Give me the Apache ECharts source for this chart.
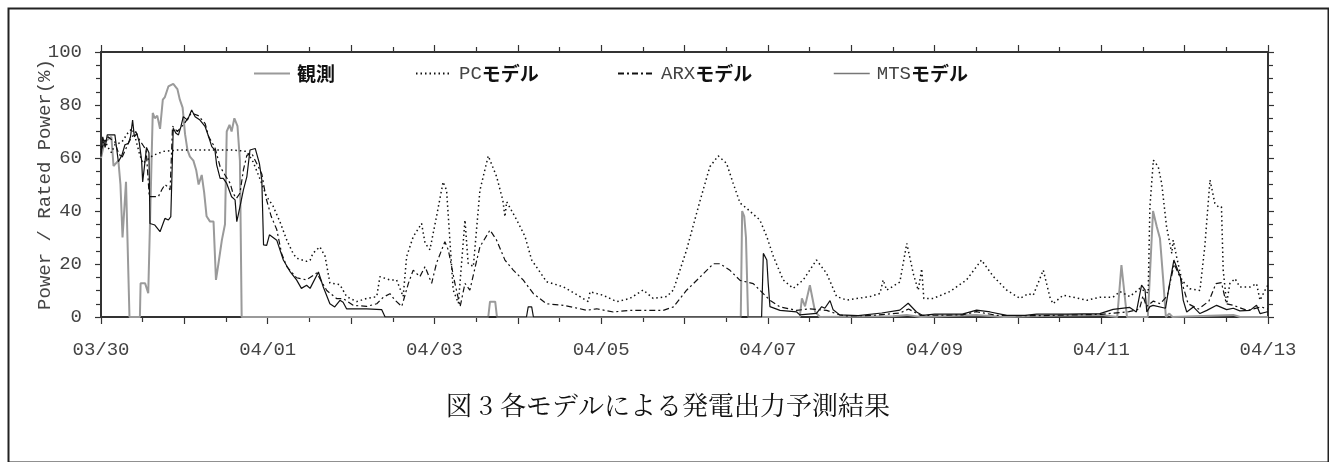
<!DOCTYPE html>
<html><head><meta charset="utf-8">
<script src="https://cdn.jsdelivr.net/npm/echarts@6/dist/echarts.min.js"></script>
<style>html,body{margin:0;padding:0;background:#fff}#c{width:1329px;height:462px}</style>
</head><body><div id="c"></div>
<script>
// x values are hours since 03/30 00:00
const dayLabels = ['03/30','03/31','04/01','04/02','04/03','04/04','04/05','04/06','04/07','04/08','04/09','04/10','04/11','04/12','04/13'];
const seriesNames = ['観測','PCモデル','ARXモデル','MTSモデル'];
const yTicks = [0,20,40,60,80,100];

const obsData = [[0,60],[1,66],[2,67],[3,68],[3.6,57],[5,59],[5.6,50],[6.2,30],[7.2,51],[8.2,0],[11.2,0],[11.4,12.7],[12.7,12.7],[13.6,9],[14.9,77],[15.5,75],[16.2,76],[17,71],[17.8,82],[18.4,83],[19.4,87],[20.8,88],[22,86],[22.7,82],[23.5,79],[24.2,69],[24.9,63],[25.6,60.5],[26.6,59],[27.4,55.5],[28.1,50],[29,53.6],[29.7,47],[30.4,38],[31.4,36],[32.4,36],[33.1,14],[33.8,20],[34.8,29],[35.7,35],[36.2,70],[37,72.5],[37.6,70],[38.4,75],[39.3,72],[40,59],[40.5,0],[111.5,0],[112,5.8],[113.5,5.8],[114,0],[184.2,0],[184.6,40],[185.2,38],[185.7,30],[186.3,0],[201.2,0],[201.8,7],[202.7,4],[204.1,12],[205.6,2],[207,0],[228,0.3],[232,0.8],[236,0],[252,0.8],[260,0],[276,0.6],[288,0.8],[292.6,0],[293.8,19.6],[295.4,0],[301.4,0],[302.9,40],[304,34],[304.9,29.6],[305.8,14.5],[306.6,0],[307.6,1.3],[308.5,0],[326,0.8],[328,0],[336,0]];

const pcData = [[0,64],[1,67],[2,64],[3,62],[4,65],[6,66],[8,70],[9,71],[10,67],[11,62],[12,58],[13,59],[15,61],[18,62.5],[22,63],[30,63],[38,63],[42,62.5],[43.8,58.5],[45.8,52],[47.7,45.4],[49.5,42],[51.5,36],[53.5,29],[55.3,24],[56.3,22.2],[59.2,21],[60.2,21.4],[61,24],[63,26.5],[64.5,23],[65.9,12.8],[68.8,12.2],[70.7,7.7],[73.6,5.8],[76.5,7],[79.4,7.7],[80.3,15.2],[83.2,14],[85.1,14],[87,7.7],[88,22.8],[89.9,30.3],[92.3,35.3],[93.3,27.9],[94.7,25.4],[96.6,37.9],[98.5,51],[99.5,47.8],[101.4,10.2],[102.9,5.2],[104.8,36.6],[105.7,20.3],[107.2,19],[109.1,47.8],[111.5,60.8],[113.9,53],[115.7,44],[116.3,37.8],[116.8,43.5],[119.7,36.6],[122.1,30.3],[124,21.5],[128.3,13.3],[133.1,11.4],[137.9,7.7],[140.3,5.8],[140.8,9.5],[144.6,8.2],[148.5,5.8],[152.3,7],[156.1,10.2],[159,7],[162.9,7.7],[164.8,10.2],[168.6,25.3],[172.5,44],[175.3,56.7],[177.7,60.8],[180.1,58],[182,50.5],[184,43],[185.9,41],[189.7,36.6],[191.7,30.3],[193.6,22.8],[196.4,14],[199.3,10.8],[202.2,14],[206,21.5],[208.9,16.5],[211.8,7.7],[214.7,6.4],[217.6,7],[221.4,7.7],[224.3,8.9],[225.2,14],[226.2,10.1],[230,13.2],[232,27.8],[233.9,16.2],[235.3,10.1],[236.3,18.2],[236.9,7],[239.6,7],[244.4,9.6],[249.2,14],[253.5,21.5],[256.9,15.3],[260.8,10.1],[264.6,7],[267,8.8],[268.4,8.2],[271.3,17.7],[273.2,7.5],[274.1,5],[277,8.2],[279.8,7.5],[283.9,6.3],[287.6,7.5],[291.4,7.5],[293.4,9.6],[296.2,7.7],[299.1,10.8],[301.5,9],[302,41.6],[303,59.2],[304.4,56.7],[305.4,50.3],[306.8,34],[308.3,24],[308.7,29],[309.7,22.6],[311.2,13.8],[313.5,10.7],[316.4,10],[317.8,26.5],[319.3,51.7],[320.7,42.9],[321.7,41.6],[322.6,41.6],[323.1,17.7],[324.1,5],[325,12.6],[326.5,14.5],[327.9,11.3],[330.8,11.3],[332.7,12.6],[333.7,6.3],[335.6,11.3],[336,12]];

const arxData = [[0,63],[1,66],[2,68],[3,67],[4,66],[5,62],[6,60],[7,63],[8,66],[9,68],[10,70],[11,67],[12,65],[13,63],[13.9,45.4],[16.5,45.4],[17.5,48],[18.4,50],[19.4,49],[19.9,48],[20.6,72],[22,70],[24,73],[26,77],[28,76],[30,73],[31,68],[32.8,64],[34.3,56.7],[35.7,53.6],[37.2,50.4],[38,46.7],[39,44.8],[40,46.7],[41,55.5],[42,61],[43.4,61.8],[44.8,58],[46.3,54],[47.5,45],[49,38],[50.6,33],[52,24],[53.5,19],[56.3,14.8],[59.2,14],[62.1,16.6],[65,10],[67.9,6.9],[69.8,6.9],[72.6,4.4],[76.5,4],[79.4,5],[81.3,7.5],[83.2,8.8],[84.6,6.4],[86.6,4],[88.5,12.7],[89.9,17.7],[91.8,15.2],[93.3,19],[95.2,12.7],[96.6,20.3],[99,28.4],[100,25.3],[101.9,12.7],[103.4,3.9],[104.8,12.7],[106.2,10.1],[108.2,21.5],[109.1,26.5],[112,32.8],[113.9,29],[116.3,21.5],[118.7,17.7],[121.6,13.9],[124.5,8.8],[128.3,5],[133.1,4.4],[137.9,3.1],[139.8,2.5],[142.7,3.1],[147.5,1.9],[152.3,2.5],[157.1,2.5],[161.9,2.5],[164.8,3.8],[168.6,10.1],[172.5,15.1],[176.3,20.1],[178.2,20.1],[181.1,17.6],[184,13.8],[185.9,13.2],[187.8,12.6],[189.7,10.1],[192.6,6.3],[195.5,3.8],[200.3,2.5],[204.1,3.1],[208.9,2.5],[212.7,0.8],[214.7,0.4],[222,0.6],[230,1.5],[232.5,3],[236,0.6],[248,0.8],[252,2],[258,0.6],[270,0.5],[280,0.8],[288,1],[296,2],[299,3],[300,8],[301,4],[303,6],[305,5],[307,8],[309,20],[311,14],[313,5],[316,3],[319,6],[321,12.6],[322.6,13],[324,5],[326,4.4],[330,2.5],[334,3.8],[336,3]];

const mtsData = [[0,60.5],[0.5,68],[1.2,64],[1.8,68.7],[3.1,68.7],[4,68.7],[5,58.6],[6,61],[6.9,65],[7.9,65.5],[8.5,68],[9.1,74.3],[9.6,68],[10.3,69.3],[11,66],[11.7,59],[12,51],[12.7,59],[13.1,64],[13.8,62],[14.1,35.3],[15.5,34.7],[17,32.2],[18.4,37.2],[19.4,36.6],[20.1,37.9],[20.8,71.2],[21.6,69.3],[22.3,68.7],[23,71.8],[23.7,75.6],[24.9,74.3],[26.1,78.1],[27.1,75.6],[28.5,74.3],[30,71.8],[31,68],[31.9,64.3],[32.8,63],[33.3,57.4],[34.3,52.3],[35.2,52.3],[36.2,50.4],[37.6,45.4],[38.6,44.2],[39.1,36],[40,41.6],[41,48],[42,53],[42.9,63],[44.4,63.6],[45.6,58],[46.3,51.7],[46.8,27.2],[47.7,27],[48.5,31],[50.6,29],[52.5,21.5],[54.5,17],[56.3,14],[57.7,10.8],[59.2,12],[60.2,10.8],[62.6,17],[64,11.3],[65.9,5],[67.3,3.8],[68.8,6.3],[69.7,5.6],[70.7,3.1],[76.5,3.1],[80.8,2.8],[81.8,0],[122.5,0],[123,3.8],[124,3.8],[124.5,0],[190.2,0],[190.7,24],[191.7,21.5],[192.1,12.7],[192.6,3.9],[195.5,2.5],[200.3,1.9],[201.2,0.8],[206,1.4],[207.5,3.9],[208.4,3.3],[209.9,6.2],[210.8,2.7],[212.7,0.8],[218,0.5],[224.8,1.5],[230,2.6],[232.4,5.2],[234.8,1.9],[236.6,0.6],[240,1.1],[248,1.1],[252.1,2.6],[256,1.9],[260.8,0.6],[266,0.6],[269.4,1.1],[278,1.1],[287.6,1.3],[291.4,2.9],[296.2,3.6],[298.1,1.9],[299.6,12],[300.6,10.2],[301.1,1.9],[302,3.9],[302.9,4.4],[306.5,3.3],[307.5,11.3],[308.9,21.5],[310.8,15],[311.6,6.3],[312.6,1.9],[314.5,3.8],[316.4,1.3],[318.4,2.5],[321.2,4.4],[324.1,2.8],[326,3.3],[327.9,2.3],[330.8,2.5],[332.7,4.4],[333.7,1.3],[335.6,1.9],[336,1.9]];

const MONO = 'Liberation Mono';
const JP = 'Noto Sans CJK JP';
const axisCol = '#333';

const chart = echarts.init(document.getElementById('c'), null, {renderer:'canvas'});

function legendFmt(n){
  if (n === '観測') return '{j|観測}';
  return '{m|' + n.replace('モデル','') + '}{j|モデル}';
}
function mkLegend(name, left, extra){
  return Object.assign({
    data:[name], left:left, top:64, itemWidth:36, itemHeight:14, itemGap:0, padding:0,
    formatter: legendFmt, selectedMode:false,
    itemStyle:{opacity:0},
    textStyle:{ padding:[0,0,0,2], rich:{
      m:{fontFamily:MONO, fontSize:19, color:'#444'},
      j:{fontFamily:JP, fontSize:19, fontWeight:'bold', color:'#111'}
    }}
  }, extra || {});
}

const xBase = {
  type:'value', min:0, max:336, interval:24,
  splitLine:{show:false},
  axisLine:{show:true, onZero:false, lineStyle:{color:axisCol, width:2}},
  axisTick:{show:true, length:7, lineStyle:{color:axisCol, width:1.2}},
  minorTick:{show:true, splitNumber:2, length:5, lineStyle:{color:axisCol, width:1.2}},
  minorSplitLine:{show:false}
};
const yBase = {
  type:'value', min:0, max:100, interval:20,
  splitLine:{show:false},
  axisLine:{show:true, onZero:false, lineStyle:{color:axisCol, width:2}},
  axisTick:{show:true, length:6, lineStyle:{color:axisCol, width:1.2}},
  minorTick:{show:true, splitNumber:4, length:5, lineStyle:{color:axisCol, width:1.2}},
  minorSplitLine:{show:false}
};

const option = {
  animation:false,
  backgroundColor:'#fff',
  grid:{left:101, right:61, top:52, bottom:145, containLabel:false},
  legend:[
    mkLegend(seriesNames[0],253),
    mkLegend(seriesNames[1],415),
    mkLegend(seriesNames[2],617),
    mkLegend(seriesNames[3],833,{lineStyle:{color:'#777', width:1.5}})
  ],
  xAxis:[
    Object.assign({}, xBase, {position:'bottom',
      axisLabel:{show:true, margin:23, fontFamily:MONO, fontSize:19, color:'#444',
        formatter:function(v){ const d=Math.round(v/24); return d%2===0 ? dayLabels[d] : ''; }}}),
    Object.assign({}, xBase, {position:'top', axisLabel:{show:false}})
  ],
  yAxis:[
    Object.assign({}, yBase, {position:'left',
      name:'Power / Rated Power(%)', nameLocation:'middle', nameGap:47, nameRotate:90,
      nameMoveOverlap:false,
      nameTextStyle:{fontFamily:MONO, fontSize:19, color:'#444'},
      axisLabel:{show:true, margin:19, fontFamily:MONO, fontSize:19, color:'#444',
        formatter:function(v){ return yTicks.indexOf(v)>=0 ? String(v) : ''; }}}),
    Object.assign({}, yBase, {position:'right', axisLabel:{show:false}})
  ],
  series:[
    {name:seriesNames[0], type:'line', data:obsData, symbol:'none', showSymbol:false,
      lineStyle:{color:'#9a9a9a', width:2}, itemStyle:{color:'#9a9a9a'}, z:2},
    {name:seriesNames[1], type:'line', data:pcData, symbol:'none', showSymbol:false,
      lineStyle:{color:'#111', width:1.5, type:[1.5,3]}, itemStyle:{color:'#111'}, z:3},
    {name:seriesNames[2], type:'line', data:arxData, symbol:'none', showSymbol:false,
      lineStyle:{color:'#111', width:1.2, type:[6,3,2,3]}, itemStyle:{color:'#111'}, z:4},
    {name:seriesNames[3], type:'line', data:mtsData, symbol:'none', showSymbol:false,
      lineStyle:{color:'#111', width:1.2}, itemStyle:{color:'#111'}, z:5}
  ],
  graphic:[
    {type:'rect', left:6, top:6, shape:{x:0,y:0,width:1320,height:454}, style:{fill:'none', stroke:'#222', lineWidth:2}, silent:true},
    {type:'text', x:668, y:405, style:{text:'図 3 各モデルによる発電出力予測結果', fontFamily:"'Noto Serif CJK JP', 'Noto Sans CJK JP'", fontSize:26, fill:'#111', align:'center', verticalAlign:'middle'}, silent:true}
  ]
};
chart.setOption(option);
</script>
</body></html>
